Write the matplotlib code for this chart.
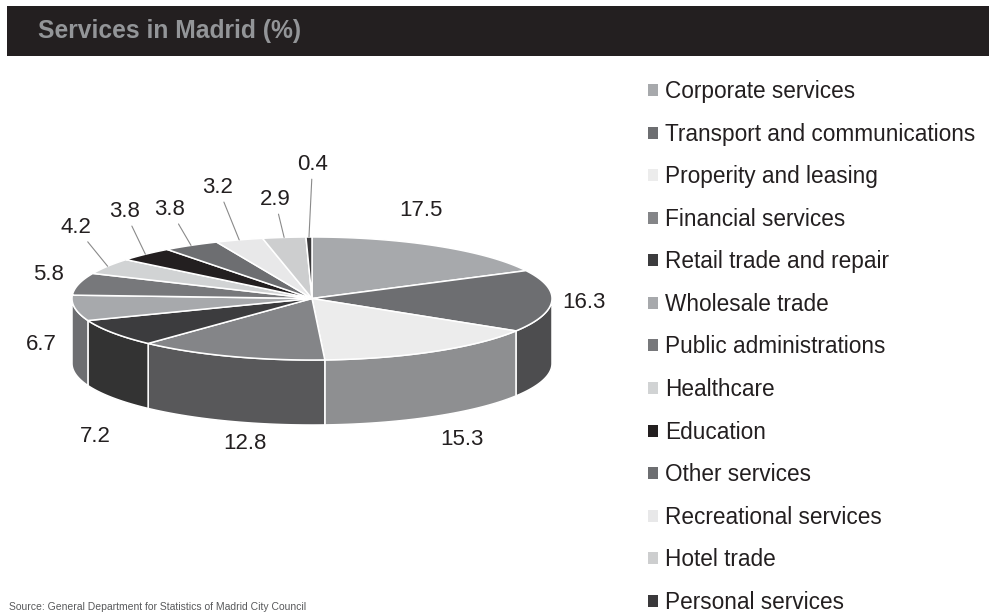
import numpy as np
import matplotlib
matplotlib.use("Agg")
import matplotlib.pyplot as plt
from matplotlib.patches import Polygon, Rectangle, Patch

# ---------------- data ----------------
categories = [
    "Corporate services",
    "Transport and communications",
    "Properity and leasing",
    "Financial services",
    "Retail trade and repair",
    "Wholesale trade",
    "Public administrations",
    "Healthcare",
    "Education",
    "Other services",
    "Recreational services",
    "Hotel trade",
    "Personal services",
]
values = [17.5, 16.3, 15.3, 12.8, 7.2, 6.7, 5.8, 4.2, 3.8, 3.8, 3.2, 2.9, 0.4]

title = "Services in Madrid (%)"
source = "Source: General Department for Statistics of Madrid City Council"

# ---------------- styles ----------------
top_colors = ["#a7a9ac", "#6d6e71", "#ececec", "#848588", "#3c3c3e", "#a7a9ac",
              "#77787b", "#d1d3d4", "#231f20", "#6d6e71", "#e8e8e9", "#cdcecf", "#3a393b"]
side_colors = ["#7a7c7f", "#4d4d4f", "#8e8f91", "#58585a", "#333333", "#6d6e71",
               "#58595b", "#9a9b9d", "#1a1718", "#4d4d4f", "#a9aaab", "#969799", "#2a292b"]
# label offsets from the slice's top-edge midpoint (pixels, y up)
label_offsets = [(-16.4, 36), (32.2, -1), (27.7, -88.5), (15.1, -87.7), (-18, -103.5),
                 (-33.9, -36.5), (-30.7, 9.5), (-31.6, 38.8), (-20.5, 42.7), (-21, 35.9),
                 (-21.2, 52.4), (-9.2, 37.9), (3.5, 72.5)]
leader = [False] * 7 + [True] * 6

plt.rcParams["font.family"] = ["Liberation Sans", "DejaVu Sans"]

W, H = 989, 613
fig = plt.figure(figsize=(W / 100, H / 100), dpi=100)
fig.patch.set_facecolor("white")

# title bar
fig.patches.append(Rectangle((7 / W, 1 - 56 / H), 1 - 7 / W, 50 / H, transform=fig.transFigure,
                             facecolor="#231f20", edgecolor="none", zorder=0))
fig.text(38 / W, 1 - 38 / H, title, color="#939598", fontsize=17.7, fontweight="bold",
         va="baseline", ha="left")

# ---------------- 3D pie ----------------
ax = fig.add_axes([0, 122.5 / H, 624 / W, 384 / H])
ax.set_xlim(-1.3, 1.3)
ax.set_ylim(-0.8, 0.8)
ax.axis("off")

TILT = 61.5 / 240
DEPTH = 65 / 240
vals = np.array(values, dtype=float)
frac = vals / vals.sum()
bounds = 90 - 360 * np.concatenate([[0], np.cumsum(frac)])


def arc(t0, t1):
    n = max(2, int(abs(t0 - t1) * 2) + 2)
    t = np.radians(np.linspace(t0, t1, n))
    return np.cos(t), TILT * np.sin(t)


# side walls (front half only)
for i in range(len(vals)):
    t0, t1 = bounds[i], bounds[i + 1]
    a, b = max(t1, -180.0), min(t0, 0.0)
    if a < b:
        x, y = arc(b, a)
        pts = np.column_stack([np.concatenate([x, x[::-1]]),
                               np.concatenate([y, y[::-1] - DEPTH])])
        ax.add_patch(Polygon(pts, closed=True, facecolor=side_colors[i], edgecolor="white",
                             lw=1.1, zorder=1, joinstyle="miter"))

# top faces
for i in range(len(vals)):
    x, y = arc(bounds[i], bounds[i + 1])
    pts = np.column_stack([np.r_[0, x], np.r_[0, y]])
    ax.add_patch(Polygon(pts, closed=True, facecolor=top_colors[i], edgecolor="white",
                         lw=1.1, zorder=2, joinstyle="miter"))

# value labels
for i, v in enumerate(values):
    tm = np.radians((bounds[i] + bounds[i + 1]) / 2)
    anchor = (np.cos(tm), TILT * np.sin(tm))
    kw = {}
    if leader[i]:
        kw["arrowprops"] = dict(arrowstyle="-", color="#8a8a8a", lw=0.8, shrinkA=1, shrinkB=0)
    ax.annotate(f"{v:.1f}", xy=anchor, xytext=label_offsets[i], textcoords="offset pixels",
                ha="center", va="center", fontsize=16, color="#231f20",
                annotation_clip=False, zorder=3, **kw)

# ---------------- legend ----------------
handles = [Patch(facecolor=c, edgecolor="none") for c in top_colors]
leg = fig.legend(handles, categories, loc="upper left", bbox_to_anchor=(648 / W, 1 - 80 / H),
                 bbox_transform=fig.transFigure, frameon=False, fontsize=16.3,
                 handlelength=0.44, handleheight=0.44, handletextpad=0.31,
                 labelspacing=0.865, borderpad=0, borderaxespad=0)
for t in leg.get_texts():
    t.set_color("#231f20")

# source note at the bottom edge
fig.text(9 / W, 1.5 / H, source, fontsize=7.5, color="#58595b", va="bottom", ha="left")

fig.savefig("out.png", dpi=100)
